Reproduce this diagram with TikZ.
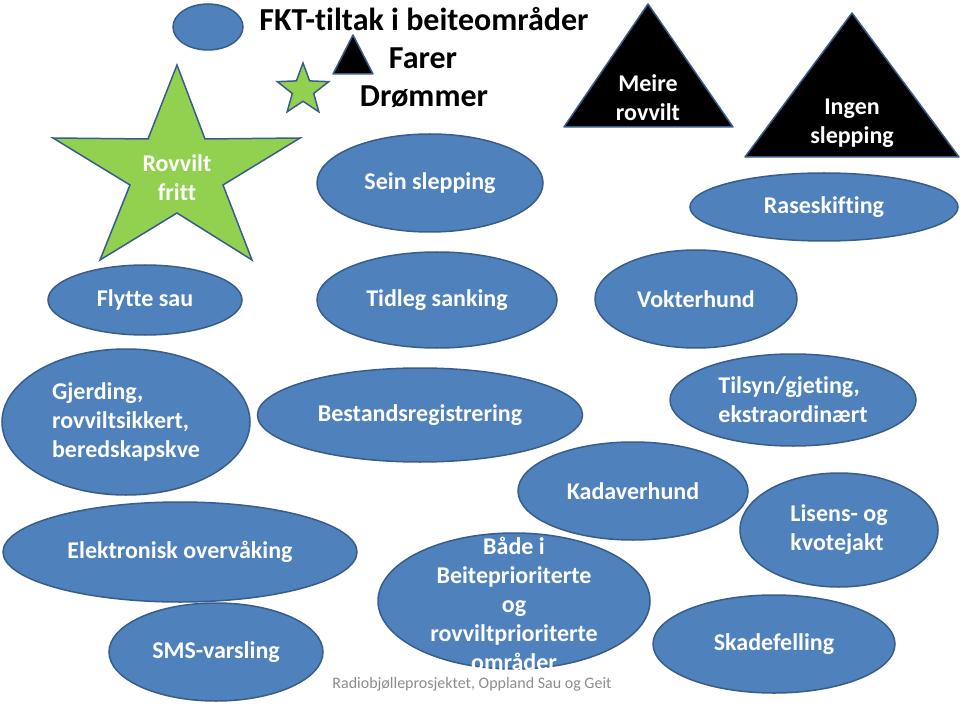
\documentclass[tikz,border=0pt]{standalone}
\usepackage{fontspec}
\setmainfont[Ligatures=NoCommon]{Carlito}
\usepackage{tikz}
\usetikzlibrary{shapes.geometric}

\definecolor{fktblue}{RGB}{79,129,189}
\definecolor{edgeblue}{RGB}{56,93,138}
\definecolor{dreamgreen}{RGB}{146,208,80}
\definecolor{footgray}{RGB}{140,140,140}

\tikzset{
    tiltak/.style={ellipse, draw=edgeblue, fill=fktblue, line width=1.5pt, inner sep=0pt,
        text=white, align=center, font=\bfseries\fontsize{24}{29}\selectfont},
    fare/.style={draw=edgeblue, fill=black, line width=1.5pt, line join=round},
    drom/.style={draw=edgeblue, fill=dreamgreen, line width=1.5pt, line join=miter},
    innskrift/.style={text=white, align=center, font=\bfseries\fontsize{24}{29}\selectfont},
    overskrift/.style={font=\bfseries\fontsize{32}{38}\selectfont}
}

\begin{document}
\begin{tikzpicture}[x=1pt,y=-1pt]
        \useasboundingbox (0,0) rectangle (960,708);
        % legend
        \node[tiltak, minimum width=70pt, minimum height=46pt] (legtiltak) at (208,27) {};
        \draw[fare] (333,74) -- (353,35) -- (373,74) -- cycle;
        \node[star, star points=5, star point ratio=2.4, minimum size=54pt, inner sep=0pt,
            drom] (legdrom) at (303,90) {};
        \node[overskrift] (tittel) at (424,19) {FKT-tiltak i beiteområder};
        \node[overskrift] (farer) at (423,58) {Farer};
        \node[overskrift] (drommer) at (424,97) {Drømmer};
        % draumar og farar
        \draw[drom] (177,65) -- (205,139) -- (300,138) -- (223,185) -- (252,260) -- (177,213)
            -- (100,260) -- (130,185) -- (53,138) -- (148,139) -- cycle;
        \node[innskrift] (rovfritt) at (177,178) {Rovvilt\\fritt};
        \draw[fare] (564,127) -- (648,4) -- (733,127) -- cycle;
        \node[innskrift] (meirerov) at (648,98) {Meire\\rovvilt};
        \draw[fare] (745,157) -- (852,13) -- (959,157) -- cycle;
        \node[innskrift] (ingenslep) at (852,123) {Ingen\\slepping};
        % tiltak
        \node[tiltak, minimum width=226pt, minimum height=98pt] (seinslep) at (430,183) {Sein slepping};
        \node[tiltak, minimum width=268pt, minimum height=68pt] (rase) at (824,207) {Raseskifting};
        \node[tiltak, minimum width=194pt, minimum height=70pt] (flytte) at (145,300) {Flytte sau};
        \node[tiltak, minimum width=240pt, minimum height=96pt] (tidleg) at (437,300) {Tidleg sanking};
        \node[tiltak, minimum width=202pt, minimum height=98pt] (vokter) at (696,299) {Vokterhund};
        \node[tiltak, minimum width=248pt, minimum height=146pt, align=left] (gjerde) at (126,422)
            {Gjerding,\\rovviltsikkert,\\beredskapskve};
        \node[tiltak, minimum width=325pt, minimum height=94pt] (bestand) at (420,415) {Bestandsregistrering};
        \node[tiltak, minimum width=246pt, minimum height=92pt, align=left] (tilsyn) at (793,400)
            {Tilsyn/gjeting,\\ekstraordinært};
        \node[tiltak, minimum width=230pt, minimum height=98pt] (kadaver) at (633,491) {Kadaverhund};
        \node[tiltak, minimum width=354pt, minimum height=100pt] (elektro) at (180,552) {Elektronisk overvåking};
        \node[tiltak, minimum width=198pt, minimum height=114pt, align=left] (lisens) at (839,530)
            {Lisens- og\\kvotejakt};
        \node[tiltak, minimum width=272pt, minimum height=136pt] (baade) at (514,601) {};
        \node[innskrift] (baadetekst) at (514,604)
            {Både i\\Beiteprioriterte\\og\\rovviltprioriterte\\områder};
        \node[tiltak, minimum width=214pt, minimum height=98pt] (sms) at (216,652) {SMS-varsling};
        \node[tiltak, minimum width=242pt, minimum height=98pt] (skade) at (774,644) {Skadefelling};
        % kjelde
        \node[text=footgray, font=\fontsize{16}{19}\selectfont] (kjelde) at (472,684)
            {Radiobjølleprosjektet, Oppland Sau og Geit};
\end{tikzpicture}
\end{document}
